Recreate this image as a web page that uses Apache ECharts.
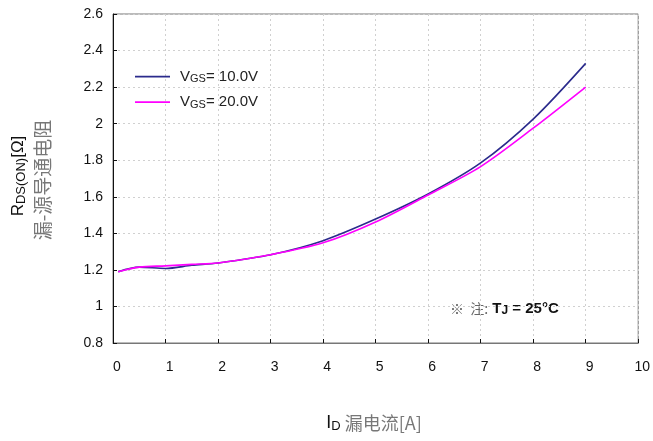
<!DOCTYPE html>
<html><head><meta charset="utf-8">
<script src="https://cdn.jsdelivr.net/npm/echarts@6/dist/echarts.min.js"></script>
<style>html,body{margin:0;padding:0;background:#fff}#c{width:653px;height:441px}</style>
</head><body><div id="c"></div>
<script>
const idValues = [0.1, 0.5, 1.0, 1.5, 2, 3, 4, 5, 6, 7, 8, 9];
const rdsVgs10 = [1.19, 1.215, 1.208, 1.225, 1.238, 1.283, 1.36, 1.478, 1.615, 1.785, 2.025, 2.33];
const rdsVgs20 = [1.19, 1.215, 1.222, 1.23, 1.238, 1.283, 1.348, 1.462, 1.61, 1.765, 1.975, 2.20];
const xTicks = ['0','1','2','3','4','5','6','7','8','9','10'];
const yTicks = ['0.8','1','1.2','1.4','1.6','1.8','2','2.2','2.4','2.6'];
const seriesNames = ['VGS= 10.0V', 'VGS= 20.0V'];

const chart = echarts.init(document.getElementById('c'));
const font = 'Liberation Sans, Arial, sans-serif';
const cjk = 'Noto Sans CJK SC';
const legendRich = {
  v: {fontFamily: font, fontSize: 15, color: '#222'},
  s: {fontFamily: font, fontSize: 11, color: '#222', padding: [5,0,0,0]}
};
chart.setOption({
  animation: false,
  grid: {left: 113, right: 14, top: 14, bottom: 98, show: true, borderColor: '#777', borderWidth: 1},
  xAxis: {
    type: 'value', min: 0, max: 10, interval: 1,
    axisLine: {show: true, lineStyle: {color: '#777', width: 1}},
    axisTick: {show: true, inside: true, length: 4, lineStyle: {color: '#111'}},
    axisLabel: {color: '#111', fontFamily: font, fontSize: 14, margin: 17, padding: [0,0,0,8],
      formatter: v => xTicks[Math.round(v)]},
    splitLine: {show: true, lineStyle: {color: '#d0d0d0', type: [2,3], width: 1}}
  },
  yAxis: {
    type: 'value', min: 0.8, max: 2.6, interval: 0.2,
    axisLine: {show: true, lineStyle: {color: '#111', width: 1}},
    axisTick: {show: true, inside: true, length: 4, lineStyle: {color: '#111'}},
    axisLabel: {color: '#111', fontFamily: font, fontSize: 14, margin: 10,
      formatter: v => yTicks[Math.round((v - 0.8) / 0.2)]},
    splitLine: {show: true, lineStyle: {color: '#d0d0d0', type: [2,3], width: 1}}
  },
  legend: {
    left: 135, top: 69, padding: 0, orient: 'vertical', itemGap: 10, itemWidth: 35, itemHeight: 14,
    icon: 'path://M0,0 L40,0 L40,2 L0,2 Z',
    textStyle: {rich: legendRich, padding: [0,0,0,5]},
    formatter: name => '{v|V}{s|GS}{v|' + name.slice(3) + '}',
    data: seriesNames
  },
  series: [
    {name: seriesNames[0], type: 'line', smooth: 0.3, showSymbol: false,
     lineStyle: {color: '#2b2b8c', width: 1.6}, itemStyle: {color: '#2b2b8c'},
     data: idValues.map((x, i) => [x, rdsVgs10[i]])},
    {name: seriesNames[1], type: 'line', smooth: 0.3, showSymbol: false,
     lineStyle: {color: '#ff00ff', width: 1.6}, itemStyle: {color: '#ff00ff'},
     data: idValues.map((x, i) => [x, rdsVgs20[i]])}
  ],
  graphic: [
    {type: 'text', x: 18, y: 176, rotation: Math.PI / 2, style: {
      text: '{b|R}{s|DS(ON)}{b|[Ω]}', align: 'center', verticalAlign: 'middle',
      rich: {b: {fontFamily: font, fontSize: 17, fill: '#111'},
             s: {fontFamily: font, fontSize: 13, fill: '#111', padding: [6,0,0,0]}}}},
    {type: 'text', x: 43, y: 180, rotation: Math.PI / 2, style: {
      text: '漏-源导通电阻', align: 'center', verticalAlign: 'middle',
      fontFamily: cjk, fontSize: 19, fill: '#777'}},
    {type: 'text', x: 374, y: 423, style: {
      text: '{b|I}{s|D}{g| 漏电流[A]}', align: 'center', verticalAlign: 'middle',
      rich: {b: {fontFamily: font, fontSize: 18, fill: '#111'},
             s: {fontFamily: font, fontSize: 13, fill: '#111', padding: [6,0,0,0]},
             g: {fontFamily: cjk, fontSize: 18, fill: '#777'}}}},
    {type: 'text', x: 450, y: 309, style: {
      text: '{g|※  注:}{b| T}{s|J}{b| = 25°C}', align: 'left', verticalAlign: 'middle',
      rich: {g: {fontFamily: cjk, fontSize: 14, fill: '#666'},
             b: {fontFamily: font, fontSize: 15, fill: '#111', fontWeight: 'bold'},
             s: {fontFamily: font, fontSize: 12, fill: '#111', fontWeight: 'bold', padding: [4,0,0,0]}}}}
  ]
});
</script></body></html>
